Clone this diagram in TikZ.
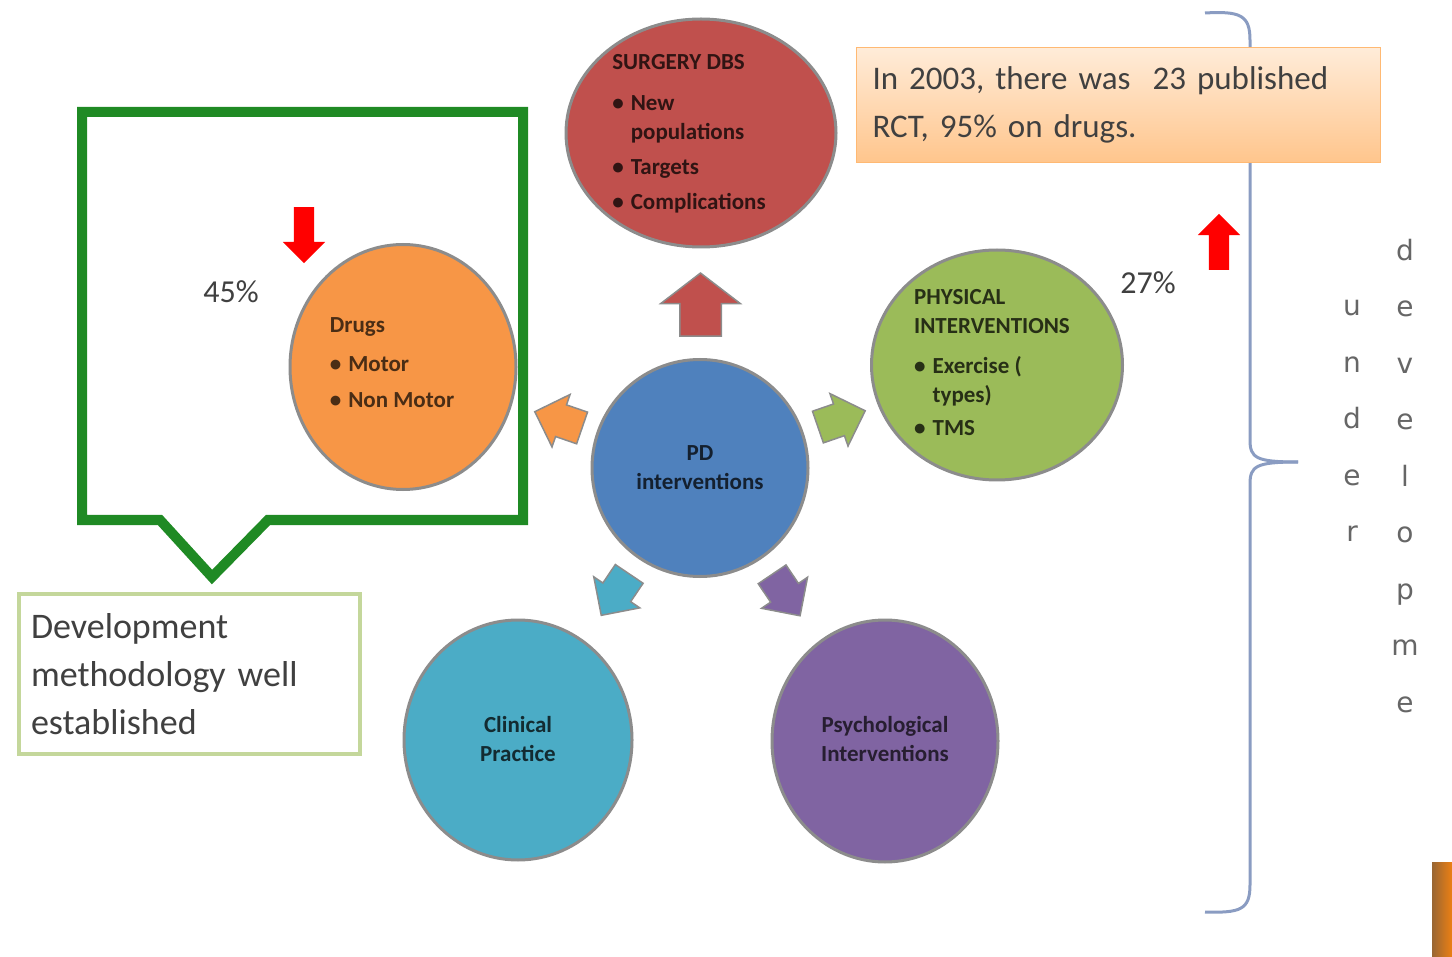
\documentclass[tikz,border=0pt]{standalone}
\usepackage{fontspec}
\setmainfont{Carlito}
\newfontfamily\letterfont{DejaVu Sans}
\usetikzlibrary{shapes.geometric,shapes.arrows,calc}
\definecolor{surgred}{HTML}{C0504D}
\definecolor{drugorange}{HTML}{F79646}
\definecolor{pdblue}{HTML}{4F81BD}
\definecolor{physgreen}{HTML}{9BBB59}
\definecolor{clincyan}{HTML}{4BACC6}
\definecolor{psychpurple}{HTML}{8064A2}
\definecolor{calloutgreen}{HTML}{1F8A24}
\definecolor{devborder}{HTML}{C4D79B}
\definecolor{bracegray}{HTML}{8A9CC2}
\begin{document}
\begin{tikzpicture}[x=1pt,y=-1pt,
  bubble/.style={ellipse,draw=black!45,line width=3pt,inner sep=0pt},
  bubtext/.style={font=\fontsize{23}{29}\selectfont\bfseries,align=left,inner sep=0pt},
  blockarrow/.style={single arrow,draw=black!45,line width=1.5pt,inner xsep=0pt,inner ysep=16pt,
    minimum height=50pt,single arrow head extend=11pt},
  redarrow/.style={single arrow,fill=red,inner xsep=0pt,inner ysep=10pt,
    minimum height=56pt,single arrow head extend=11pt},
  pct/.style={font=\fontsize{32}{38}\selectfont,text=black!75},
  plain/.style={font=\fontsize{36}{48}\selectfont,text=black!75,align=left},
  vletters/.style={font=\letterfont\fontsize{28}{56.5}\selectfont,text=black!60,align=center},
  brace/.style={draw=bracegray,line width=3pt}]
\useasboundingbox (0,0) rectangle (1452,957);

\draw[calloutgreen,line width=10pt,line join=miter]
  (82,112) -- (523,112) -- (523,520) -- (268,520) -- (212,577) -- (160,520) -- (82,520) -- cycle;

\draw[brace] (1205,13) .. controls (1240,11) and (1250,15) .. (1250,40) -- (1250,440)
  .. controls (1250,458) and (1256,462) .. (1298,462);
\draw[brace] (1298,462) .. controls (1256,462) and (1250,466) .. (1250,484) -- (1250,885)
  .. controls (1250,910) and (1240,913) .. (1205,912);

\node[bubble,fill=surgred,minimum width=270pt,minimum height=228pt] (surgery) at (701,133) {};
\node[bubble,fill=drugorange,minimum width=226pt,minimum height=245pt] (drugs) at (403,367) {};
\node[bubble,fill=pdblue,minimum width=216pt,minimum height=217pt] (pd) at (700,468) {};
\node[bubble,fill=physgreen,minimum width=251pt,minimum height=230pt] (physical) at (997,365) {};
\node[bubble,fill=clincyan,minimum width=228pt,minimum height=240pt] (clinical) at (518,740) {};
\node[bubble,fill=psychpurple,minimum width=226pt,minimum height=242pt] (psych) at (885,741) {};

\node[bubtext,text=surgred!25!black,anchor=center] (surgerytxt) at ([xshift=-12pt,yshift=-1pt]surgery.center)
  {\begin{tabular}{@{}l@{\hspace{7pt}}l@{}}
   \multicolumn{2}{@{}l@{}}{SURGERY DBS}\\[12pt]
   • & New\\
     & populations\\[6pt]
   • & Targets\\[6pt]
   • & Complications
   \end{tabular}};
\node[bubtext,text=drugorange!30!black] (drugstxt) at ([xshift=-11pt,yshift=3pt]drugs.center)
  {\begin{tabular}{@{}l@{\hspace{7pt}}l@{}}
   \multicolumn{2}{@{}l@{}}{Drugs}\\[10pt]
   • & Motor\\[7pt]
   • & Non Motor
   \end{tabular}};
\node[bubtext,text=physgreen!25!black] (physicaltxt) at ([xshift=-5pt,yshift=1pt]physical.center)
  {\begin{tabular}{@{}l@{\hspace{7pt}}l@{}}
   \multicolumn{2}{@{}l@{}}{PHYSICAL}\\
   \multicolumn{2}{@{}l@{}}{INTERVENTIONS}\\[11pt]
   • & Exercise (\\
     & types)\\[4pt]
   • & TMS
   \end{tabular}};
\node[bubtext,text=pdblue!25!black,align=center] (pdtxt) at (pd.center) {PD\\interventions};
\node[bubtext,text=clincyan!25!black,align=center] (clinicaltxt) at ([yshift=1pt]clinical.center) {Clinical\\Practice};
\node[bubtext,text=psychpurple!30!black,align=center] (psychtxt) at ([yshift=2pt]psych.center) {Psychological\\Interventions};

\node[single arrow,draw=black!45,line width=1.5pt,fill=surgred,inner xsep=0pt,inner ysep=20pt,
  minimum height=63pt,single arrow head extend=19pt,
  single arrow tip angle=105,rotate=90] (toSurgery) at ([yshift=-12pt]$(pd)!0.5!(surgery)$) {};
\node[blockarrow,fill=drugorange,rotate=161] (toDrugs) at ($(pd)!0.45!(drugs)$) {};
\node[blockarrow,fill=physgreen,rotate=19] (toPhysical) at ($(pd)!0.45!(physical)$) {};
\node[blockarrow,fill=clincyan,rotate=236] (toClinical) at ($(pd)!0.44!(clinical)$) {};
\node[blockarrow,fill=psychpurple,rotate=304] (toPsych) at ($(pd)!0.44!(psych)$) {};

\node[redarrow,rotate=-90] (drugsdown) at (304,230) {};
\node[redarrow,rotate=90] (rctup) at (1219,247) {};

\node[pct] (drugspct) at (231,292) {45\%};
\node[pct] (physpct) at (1148,283) {27\%};

\node[plain,draw=devborder,line width=4pt,fill=white,anchor=north west,
  text width=317pt,minimum height=160pt,inner xsep=12pt] (dev) at (17,592)
  {Development\\methodology well\\established};

\node[plain,font=\fontsize{33}{48}\selectfont,draw=orange!55,line width=1pt,
  top color=orange!15,bottom color=orange!45,
  anchor=north west,text width=492pt,minimum height=115pt,inner xsep=16pt] (rct) at (856,47)
  {In 2003, there was\ \ 23 published\\RCT, 95\% on drugs.};

\node[vletters] (under) at (1352,421) {u\\n\\d\\e\\r};
\node[vletters] (develop) at (1405,476) {d\\e\\v\\e\\l\\o\\p\\m\\e};

\fill[left color=brown!80!black,right color=orange!70!brown] (1432,862) rectangle (1452,957);
\end{tikzpicture}
\end{document}
